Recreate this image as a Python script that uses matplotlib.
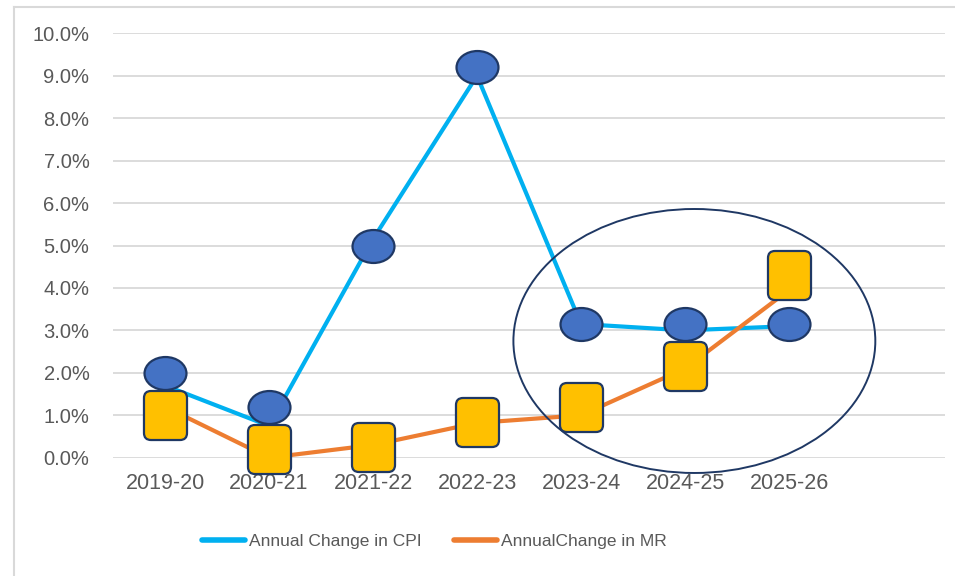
import matplotlib
matplotlib.use("Agg")
import matplotlib.pyplot as plt
from matplotlib.path import Path
from matplotlib.transforms import Affine2D
from matplotlib.patches import Ellipse, BoxStyle
from matplotlib.lines import Line2D

# data
years = ["2019-20", "2020-21", "2021-22", "2022-23", "2023-24", "2024-25", "2025-26"]
cpi_line = [1.7, 0.75, 5.15, 9.0, 3.15, 3.0, 3.1]
mr_line = [1.2, 0.0, 0.3, 0.82, 1.0, 2.1, 3.95]
# the big markers sit a little off the lines in the original
cpi_marker = [2.0, 1.2, 5.0, 9.2, 3.15, 3.15, 3.15]
mr_marker = [1.0, 0.2, 0.25, 0.85, 1.2, 2.15, 4.3]
yticks = [0, 1, 2, 3, 4, 5, 6, 7, 8, 9, 10]

blue_line = "#00B0F0"
orange_line = "#ED7D31"
navy = "#1F3864"

plt.rcParams["font.family"] = ["Liberation Sans", "DejaVu Sans"]

fig = plt.figure(figsize=(9.55, 5.76), dpi=100)
ax = fig.add_axes([113 / 955, 1 - 457.7 / 576, 832 / 955, 424.4 / 576])

x = list(range(len(years)))

ax.plot(x, cpi_line, color=blue_line, lw=3, zorder=3, solid_capstyle="round",
        label="Annual Change in CPI")
ax.plot(x, mr_line, color=orange_line, lw=3, zorder=4, solid_capstyle="round",
        label="AnnualChange in MR")

# marker shapes
oval = Path.unit_circle().transformed(Affine2D().scale(42, 33))
box = BoxStyle("Round", pad=0, rounding_size=7)(-21.5, -24.5, 43, 49, 1.0)

ax.plot(x, cpi_marker, ls="none", marker=oval, markersize=30.2,
        markerfacecolor="#4472C4", markeredgecolor=navy, markeredgewidth=1.6,
        zorder=5, clip_on=False)
ax.plot(x, mr_marker, ls="none", marker=box, markersize=35.3,
        markerfacecolor="#FFC000", markeredgecolor=navy, markeredgewidth=1.6,
        zorder=6, clip_on=False)

# highlight ring round the last three years
ring = Ellipse((5.09, 2.75), 3.48, 6.22, fill=False, edgecolor=navy, lw=1.4,
               zorder=7, clip_on=False)
ax.add_patch(ring)

ax.set_xlim(-0.5, 7.5)
ax.set_ylim(0, 10)
ax.set_xticks(x)
ax.set_xticklabels(years)
ax.set_yticks(yticks)
ax.set_yticklabels([f"{v:.1f}%" for v in yticks])
ax.tick_params(axis="both", length=0, colors="#595959")
ax.tick_params(axis="y", pad=17, labelsize=14.5)
ax.tick_params(axis="x", pad=11, labelsize=15.5)

ax.grid(axis="y", color="#D9D9D9", lw=1.3)
ax.set_axisbelow(True)
for s in ax.spines.values():
    s.set_visible(False)

leg = fig.legend(loc="center", bbox_to_anchor=(0.455, 1 - 541.7 / 576), ncol=2,
                 frameon=False, handlelength=2.45, handletextpad=0.25, columnspacing=1.9,
                 prop={"family": ["Liberation Sans Narrow", "Liberation Sans"], "size": 12.5})
for t in leg.get_texts():
    t.set_color("#595959")
for h in leg.get_lines():
    h.set_linewidth(4)

# light chart border on the left and top
fig.add_artist(Line2D([14 / 955, 14 / 955], [0, 1 - 7 / 576], color="#D9D9D9", lw=1.5))
fig.add_artist(Line2D([14 / 955, 1], [1 - 7 / 576, 1 - 7 / 576], color="#D9D9D9", lw=1.5))

fig.savefig("out.png", dpi=100)
